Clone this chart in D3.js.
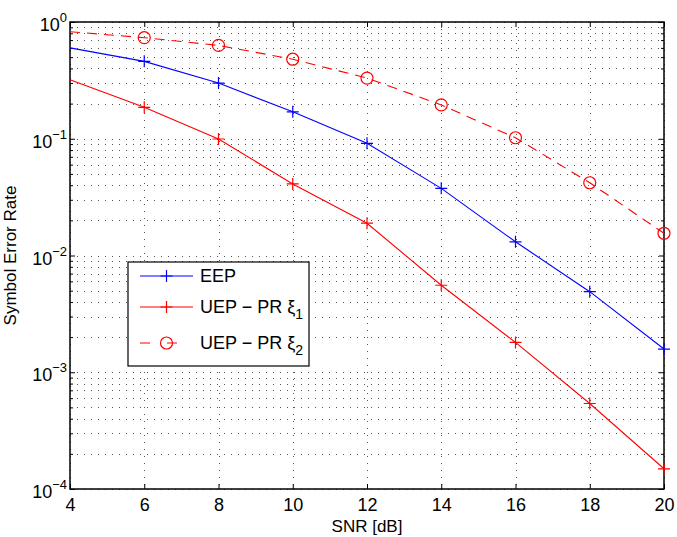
<!DOCTYPE html>
<html>
<head>
<meta charset="utf-8">
<script src="https://cdn.jsdelivr.net/npm/d3@7"></script>
<style>
  body { margin: 0; background: #fff; }
  text { font-family: "Liberation Sans", Arial, sans-serif; fill: #000; }
</style>
</head>
<body>
<div class="graph"></div>
<script>
// Data
var snr = [4, 6, 8, 10, 12, 14, 16, 18, 20];
var eep = [0.60, 0.46, 0.30, 0.17, 0.0914, 0.0376, 0.0131, 0.0049, 0.00158];
var uep1 = [0.32, 0.186, 0.0995, 0.041, 0.0189, 0.00556, 0.0018, 0.00054, 0.000149];
var uep2 = [0.826, 0.734, 0.63, 0.48, 0.331, 0.195, 0.102, 0.042, 0.0155];
var xTicks = [4, 6, 8, 10, 12, 14, 16, 18, 20];
var yExps = [-4, -3, -2, -1, 0];

// Configuration
var margin = {top: 22, right: 13, bottom: 48, left: 70},
    width = 677 - margin.left - margin.right,
    height = 537 - margin.top - margin.bottom;

var x = d3.scaleLinear().domain([4, 20]).range([0, width]);
var y = d3.scaleLog().domain([1e-4, 1]).range([height, 0]);

var svg = d3.select(".graph").append("svg")
    .attr("width", 677)
    .attr("height", 537)
    .style("display", "block")
  .append("g")
    .attr("transform", "translate(" + margin.left + "," + margin.top + ")");

// minor log values
var minor = [];
yExps.slice(0, -1).forEach(function(e) {
  for (var k = 2; k <= 9; k++) minor.push(k * Math.pow(10, e));
});
var majors = yExps.map(function(e) { return Math.pow(10, e); });

// grid
var grid = svg.append("g").attr("stroke", "#555").attr("stroke-width", 1)
    .attr("stroke-dasharray", "1,6");
grid.selectAll(".hg").data(majors.concat(minor)).enter().append("line")
    .attr("x1", 0).attr("x2", width)
    .attr("y1", function(d) { return Math.round(y(d)) + 0.5; })
    .attr("y2", function(d) { return Math.round(y(d)) + 0.5; });
grid.selectAll(".vg").data(xTicks).enter().append("line")
    .attr("y1", 0).attr("y2", height)
    .attr("x1", function(d) { return Math.round(x(d)) + 0.5; })
    .attr("x2", function(d) { return Math.round(x(d)) + 0.5; });

// axes
var fmtNone = function() { return ""; };
svg.append("g").attr("transform", "translate(0," + height + ")")
    .call(d3.axisBottom(x).tickValues(xTicks).tickSizeInner(-5).tickSizeOuter(0).tickPadding(9))
    .call(function(g) { g.select(".domain").remove(); g.selectAll("text").attr("font-size", 18).attr("font-family", "Liberation Sans, Arial"); });
svg.append("g")
    .call(d3.axisTop(x).tickValues(xTicks).tickSizeInner(-5).tickSizeOuter(0).tickFormat(fmtNone))
    .call(function(g) { g.select(".domain").remove(); });
svg.append("g")
    .call(d3.axisLeft(y).tickValues(majors).tickSizeInner(-5).tickSizeOuter(0).tickFormat(fmtNone))
    .call(function(g) { g.select(".domain").remove(); });
svg.append("g")
    .call(d3.axisLeft(y).tickValues(minor).tickSizeInner(-3).tickSizeOuter(0).tickFormat(fmtNone))
    .call(function(g) { g.select(".domain").remove(); });
svg.append("g").attr("transform", "translate(" + width + ",0)")
    .call(d3.axisRight(y).tickValues(majors).tickSizeInner(-5).tickSizeOuter(0).tickFormat(fmtNone))
    .call(function(g) { g.select(".domain").remove(); });
svg.append("g").attr("transform", "translate(" + width + ",0)")
    .call(d3.axisRight(y).tickValues(minor).tickSizeInner(-3).tickSizeOuter(0).tickFormat(fmtNone))
    .call(function(g) { g.select(".domain").remove(); });

// y tick labels 10^e
var yl = svg.selectAll(".ylab").data(yExps).enter().append("text")
    .attr("x", -3)
    .attr("y", function(d) { return y(Math.pow(10, d)) + 9; })
    .attr("text-anchor", "end")
    .attr("font-size", 18);
yl.append("tspan").text("10");
yl.append("tspan").attr("dy", -9).attr("font-size", 13).text(function(d) { return d === 0 ? "0" : "\u2212" + (-d); });

// frame
svg.append("rect").attr("width", width).attr("height", height)
    .attr("fill", "none").attr("stroke", "#000").attr("stroke-width", 1.5);

// lines
var line = d3.line()
    .x(function(d) { return x(d[0]); })
    .y(function(d) { return y(d[1]); });
var series = [
  {vals: eep, color: "#0000ff", dash: null, marker: "plus"},
  {vals: uep1, color: "#ff0000", dash: null, marker: "plus"},
  {vals: uep2, color: "#ff0000", dash: "10,7", marker: "circle"}
];

function drawMarker(g, type, color, cx, cy) {
  if (type === "plus") {
    g.append("path").attr("d", "M" + (cx - 6) + "," + cy + "H" + (cx + 6) + "M" + cx + "," + (cy - 6) + "V" + (cy + 6))
      .attr("stroke", color).attr("stroke-width", 1.2).attr("fill", "none");
  } else {
    g.append("circle").attr("cx", cx).attr("cy", cy).attr("r", 6)
      .attr("stroke", color).attr("stroke-width", 1.2).attr("fill", "none");
  }
}

series.forEach(function(s) {
  var pts = snr.map(function(v, i) { return [v, s.vals[i]]; });
  svg.append("path").datum(pts)
    .attr("d", line)
    .attr("fill", "none")
    .attr("stroke", s.color)
    .attr("stroke-width", 1.1)
    .attr("stroke-dasharray", s.dash);
  var mg = svg.append("g");
  pts.forEach(function(p) {
    if (p[0] > 4) drawMarker(mg, s.marker, s.color, x(p[0]), y(p[1]));
  });
});

// axis titles
svg.append("text").attr("x", width / 2).attr("y", height + 43)
    .attr("text-anchor", "middle").attr("font-size", 17).text("SNR [dB]");
svg.append("text").attr("transform", "translate(" + (-54) + "," + (height / 2) + ") rotate(-90)")
    .attr("text-anchor", "middle").attr("font-size", 17).text("Symbol Error Rate");

// legend
var legendNames = ["EEP", "UEP \u2212 PR \u03be", "UEP \u2212 PR \u03be"];
var legendSubs = ["", "1", "2"];
var lg = svg.append("g").attr("transform", "translate(" + (128 - margin.left) + "," + (262 - margin.top) + ")");
lg.append("rect").attr("width", 181).attr("height", 104)
    .attr("fill", "#fff").attr("stroke", "#000").attr("stroke-width", 1.2);
var rowY = [14, 45, 81];
series.forEach(function(s, i) {
  lg.append("line").attr("x1", 12).attr("x2", 65).attr("y1", rowY[i]).attr("y2", rowY[i])
    .attr("stroke", s.color).attr("stroke-width", 1.1).attr("stroke-dasharray", s.dash ? "10,17" : null);
  drawMarker(lg, s.marker, s.color, 38.5, rowY[i]);
  var t = lg.append("text").attr("x", 72).attr("y", rowY[i] + 6).attr("font-size", 18).text(legendNames[i]);
  if (legendSubs[i]) t.append("tspan").attr("dy", 6).attr("font-size", 14).text(legendSubs[i]);
});
</script>
</body>
</html>
